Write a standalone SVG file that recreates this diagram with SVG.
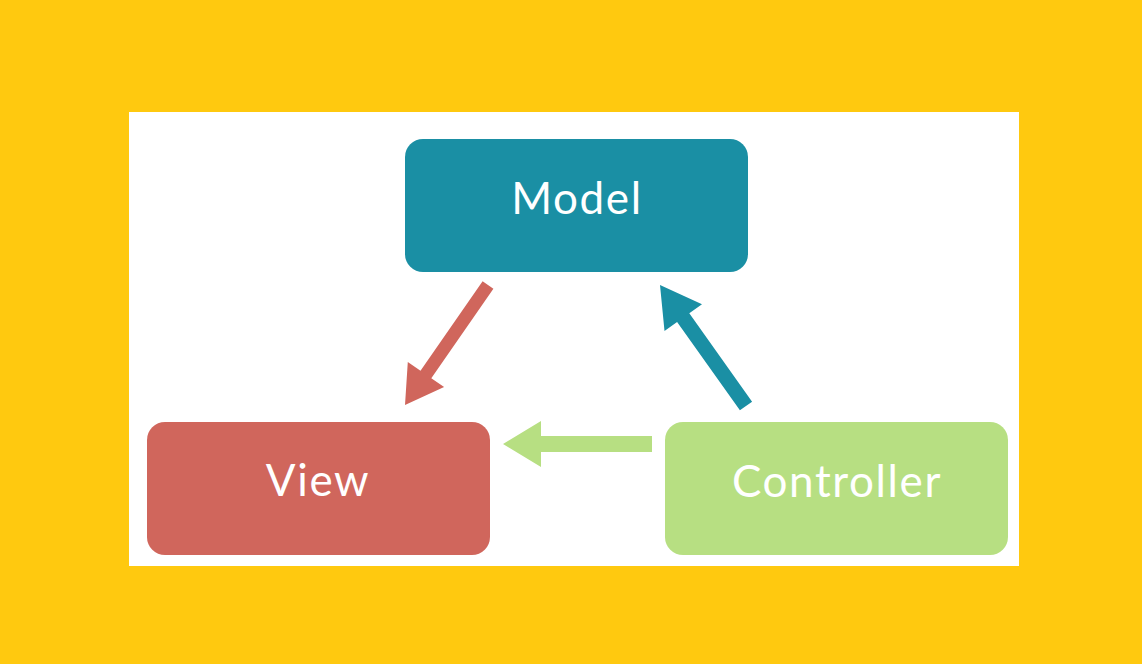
<svg xmlns="http://www.w3.org/2000/svg" width="1142" height="664" viewBox="0 0 1142 664">
<style>
.lbl{font-family:Lato,"Open Sans","Liberation Sans",sans-serif;font-size:44px;fill:#ffffff;text-anchor:middle;letter-spacing:1.6px}
</style>
<rect x="0" y="0" width="1142" height="664" fill="#FFC90F"/>
<rect x="129" y="112" width="890" height="454" fill="#ffffff"/>
<g id="connectors">
<polygon fill="#D0665C" points="493.4,288.7 431.3,378.2 444.1,387.0 405,405 407.8,362.1 420.5,370.8 482.6,281.3"/>
<polygon fill="#1A8FA4" points="752.1,401.7 689.3,313.3 702.0,304.3 660,285 664.5,330.9 677.1,322.0 739.9,410.3"/>
<polygon fill="#B7DF82" points="652,436 541,436 541,421 503,444 541,467 541,452 652,452"/>
</g>
<g id="model">
<rect x="405" y="139" width="343" height="133" rx="18" fill="#1A8FA4"/>
<text class="lbl" x="577" y="214">Model</text>
</g>
<g id="view">
<rect x="147" y="422" width="343" height="133" rx="18" fill="#D0665C"/>
<text class="lbl" x="318" y="496">View</text>
</g>
<g id="controller">
<rect x="665" y="422" width="343" height="133" rx="18" fill="#B7DF82"/>
<text class="lbl" x="837" y="497">Controller</text>
</g>
</svg>
